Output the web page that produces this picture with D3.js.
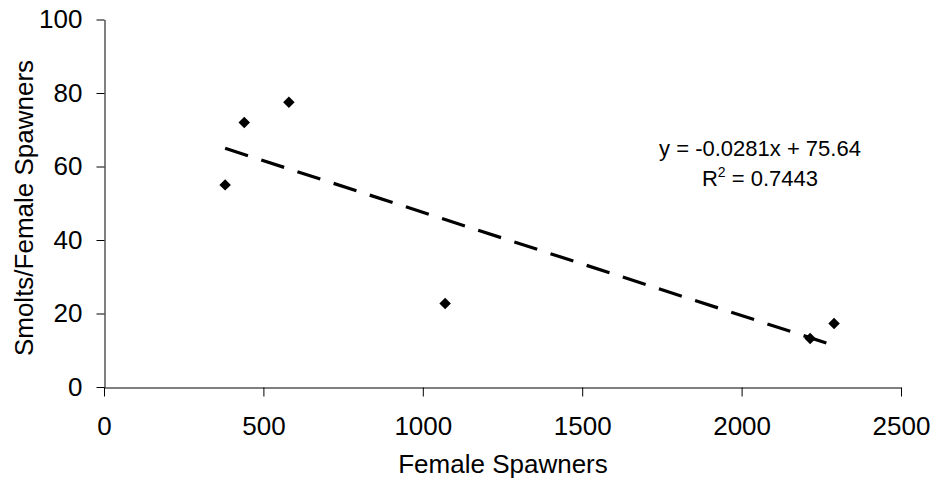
<!DOCTYPE html>
<html>
<head>
<meta charset="utf-8">
<script src="https://cdn.jsdelivr.net/npm/d3@7"></script>
<style>
  html, body { margin: 0; padding: 0; background: #fff; }
  svg { display: block; font-family: "Liberation Sans", Arial, sans-serif; }
</style>
</head>
<body>
<svg id="chart" width="935" height="489"></svg>
<script>
// Female spawners vs. smolts per female spawner
const femaleSpawners = [380, 440, 580, 1070, 2215, 2290];
const smoltsPerFemale = [55, 72, 77.5, 22.7, 13.2, 17.3];

const xTicks = [0, 500, 1000, 1500, 2000, 2500];
const yTicks = [0, 20, 40, 60, 80, 100];

// Linear trend shown in the annotation
const trendSlope = -0.0281;
const trendIntercept = 75.64;
const rSquared = 0.7443;

const svg = d3.select("#chart");
const margin = { left: 104, right: 34, top: 19.5, bottom: 102 };
const W = 935, H = 489;

const x = d3.scaleLinear().domain([0, 2500]).range([margin.left, W - margin.right]);
const y = d3.scaleLinear().domain([0, 100]).range([H - margin.bottom, margin.top]);

// Axes
const xAxis = svg.append("g")
  .attr("transform", `translate(0,${Math.round(y(0)) + 0.5})`)
  .call(d3.axisBottom(x).tickValues(xTicks).tickFormat(d3.format("d")).tickSize(9).tickPadding(20).tickSizeOuter(0));
const yAxis = svg.append("g")
  .attr("transform", `translate(${Math.round(x(0)) + 0.5},0)`)
  .call(d3.axisLeft(y).tickValues(yTicks).tickFormat(d3.format("d")).tickSize(8).tickPadding(14).tickSizeOuter(0));

[xAxis, yAxis].forEach(g => {
  g.selectAll("path, line").attr("stroke", "#000").attr("stroke-width", 1);
  g.selectAll("text").attr("fill", "#000").style("font-size", "26px")
    .style("font-family", "'Liberation Sans', Arial, sans-serif");
});

// Axis titles
svg.append("text")
  .attr("x", 503).attr("y", 473)
  .attr("text-anchor", "middle")
  .style("font-size", "26px")
  .text("Female Spawners");

svg.append("text")
  .attr("transform", "translate(33,208) rotate(-90)")
  .attr("text-anchor", "middle")
  .style("font-size", "26px")
  .text("Smolts/Female Spawners");

// Trend line across the observed range
const xMin = d3.min(femaleSpawners), xMax = d3.max(femaleSpawners);
const trend = [xMin, xMax].map(v => [v, trendSlope * v + trendIntercept]);
svg.append("path")
  .datum(trend)
  .attr("d", d3.line().x(d => x(d[0])).y(d => y(d[1])))
  .attr("fill", "none")
  .attr("stroke", "#000")
  .attr("stroke-width", 3.2)
  .attr("stroke-dasharray", "24,14");

// Data points as diamonds
const diamond = d3.symbol().type(d3.symbolSquare).size(66);
svg.append("g").selectAll("path")
  .data(femaleSpawners.map((v, i) => [v, smoltsPerFemale[i]]))
  .join("path")
  .attr("d", diamond)
  .attr("transform", d => `translate(${x(d[0])},${y(d[1])}) rotate(45)`)
  .attr("fill", "#000");

// Equation annotation
const eq = svg.append("text")
  .attr("x", 760).attr("y", 156)
  .attr("text-anchor", "middle")
  .style("font-size", "22px")
  .text(`y = ${trendSlope.toFixed(4)}x + ${trendIntercept.toFixed(2)}`);

const r2 = svg.append("text")
  .attr("x", 760).attr("y", 186)
  .attr("text-anchor", "middle")
  .style("font-size", "22px");
r2.append("tspan").text("R");
r2.append("tspan").attr("dy", -9).style("font-size", "14px").text("2");
r2.append("tspan").attr("dy", 9).text(` = ${rSquared.toFixed(4)}`);
</script>
</body>
</html>
